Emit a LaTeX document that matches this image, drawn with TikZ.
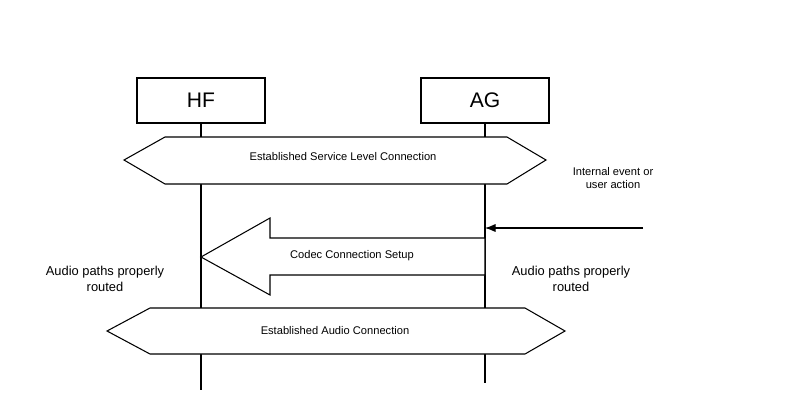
\documentclass[tikz,border=0pt]{standalone}
\usepackage{fontspec}
\setmainfont{Liberation Sans}
\usetikzlibrary{arrows.meta}

\begin{document}
\begin{tikzpicture}[x=0.03cm,y=-0.03cm,line width=0.9pt,
    entity/.style={draw,minimum width=128*0.03cm,minimum height=45*0.03cm,font=\fontsize{18}{20}\selectfont},
    note/.style={font=\fontsize{9.5}{11}\selectfont,align=center},
    sidenote/.style={font=\fontsize{11}{13}\selectfont,align=center},
    msgshape/.style={draw,fill=white}]
    \useasboundingbox (0,0) rectangle (787,412);

    \node[entity] (HF) at (201,100.5) {HF};
    \node[entity] (AG) at (485,100.5) {AG};

    % lifelines
    \coordinate (HFend) at (201,390);
    \coordinate (AGend) at (485,383);
    \draw (HF.south) -- (HFend);
    \draw (AG.south) -- (AGend);

    % service level connection
    \draw[msgshape] (124,160) -- (165,137) -- (507,137) -- (546,160) -- (507,184) -- (165,184) -- cycle;
    \node[note] (slc) at (343,157) {Established Service Level Connection};

    % codec setup
    \draw[msgshape] (201,257) -- (270,218) -- (270,238) -- (485,238) -- (485,275) -- (270,275) -- (270,295) -- cycle;
    \node[note] (ccs) at (352,256) {Codec Connection Setup};

    % trigger
    \coordinate (ext) at (643,228);
    \coordinate (AGin) at (485,228);
    \draw[-{Latex[length=9pt,width=7pt]}] (ext) -- (AGin);
    \node[note] (evt) at (613,178) {Internal event or\\user action};

    \node[sidenote] (hfpath) at (105,279) {Audio paths properly\\routed};
    \node[sidenote] (agpath) at (571,279) {Audio paths properly\\routed};

    % audio connection
    \draw[msgshape] (107,331) -- (150,308) -- (525,308) -- (565,331) -- (525,354) -- (150,354) -- cycle;
    \node[note] (sco) at (335,331) {Established Audio Connection};
\end{tikzpicture}
\end{document}
